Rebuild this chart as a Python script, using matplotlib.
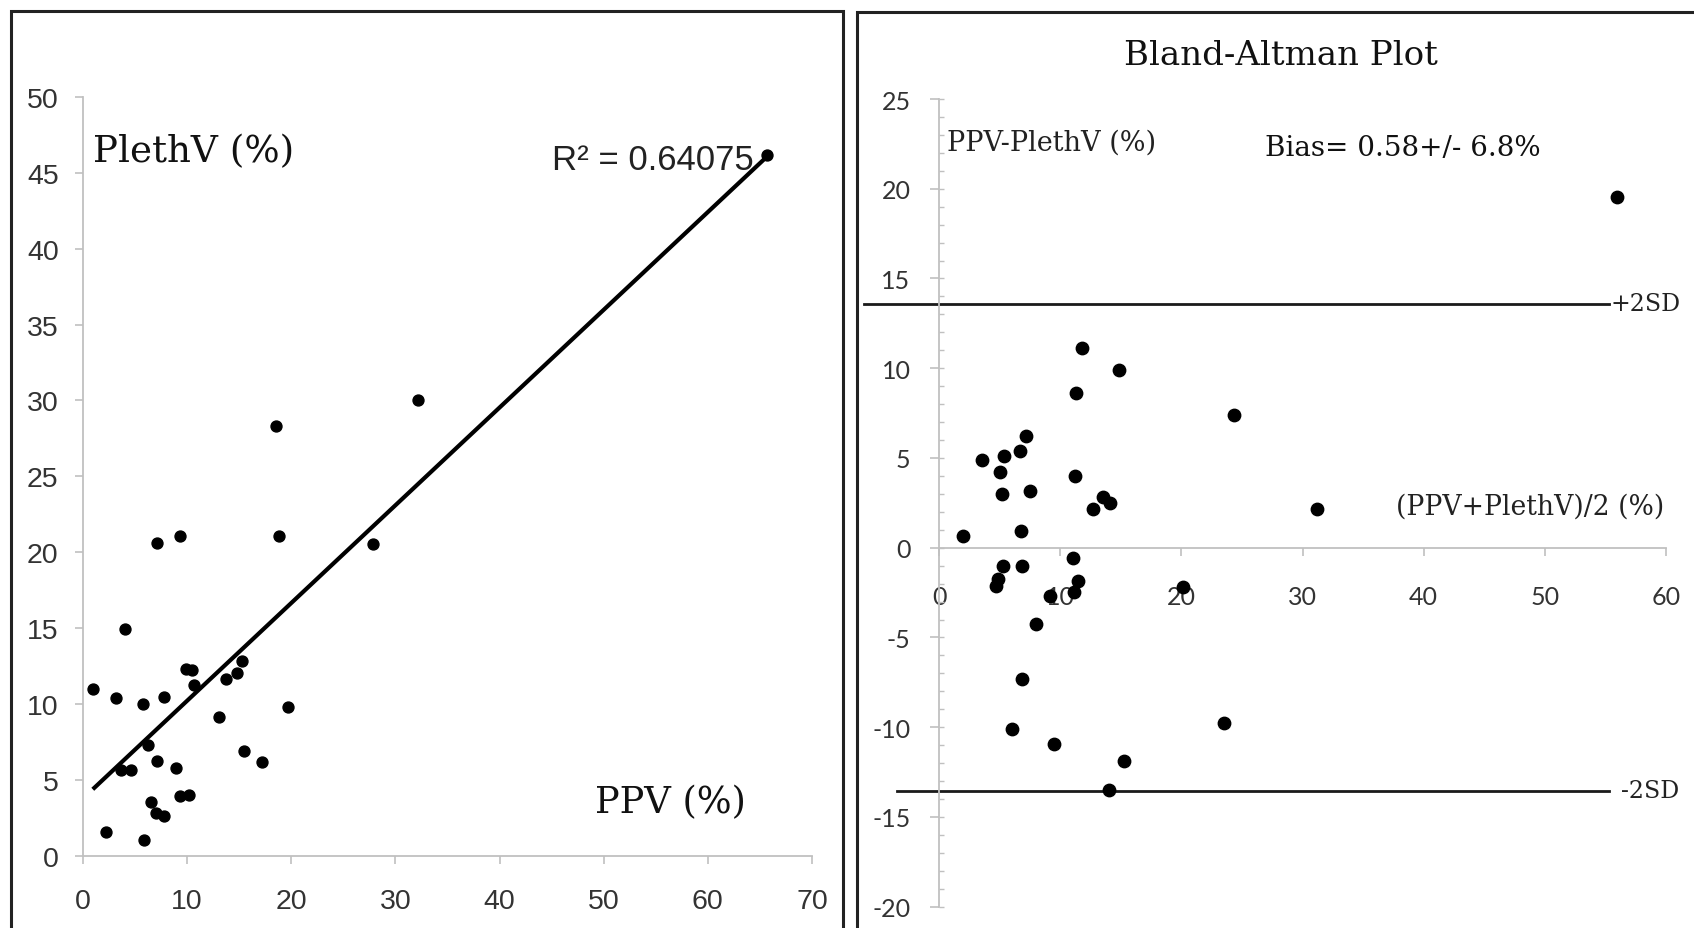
import numpy as np
import matplotlib
matplotlib.use("Agg")
import matplotlib.pyplot as plt
from matplotlib.ticker import MultipleLocator
from matplotlib.patches import Rectangle

plt.rcParams["axes.unicode_minus"] = False

# ---------------- data ----------------
ppv = [0.94, 2.19, 3.13, 4.01, 3.65, 4.59, 5.78, 5.89, 6.25, 6.57, 7.14, 7.14,
       7.03, 7.76, 7.76, 8.96, 9.28, 9.28, 10.21, 9.85, 10.42, 10.68, 13.03,
       13.70, 14.75, 15.27, 15.48, 17.20, 18.55, 18.86, 19.70, 27.88, 32.15, 65.66]
plethv = [10.96, 1.57, 10.41, 14.92, 5.68, 5.68, 10.02, 1.02, 7.32, 3.56, 20.63, 6.23,
          2.82, 2.62, 10.45, 5.79, 21.06, 3.92, 3.99, 12.33, 12.25, 11.28, 9.12,
          11.67, 12.06, 12.80, 6.93, 6.15, 28.31, 21.10, 9.79, 20.56, 30.03, 46.20]

ba_mean = [1.99, 3.57, 5.07, 5.38, 5.20, 5.29, 4.85, 4.72, 6.66, 7.19, 6.79, 6.88,
           7.50, 8.03, 6.88, 6.04, 9.17, 9.53, 11.12, 11.47, 11.03, 11.20, 11.34,
           11.82, 12.75, 13.50, 14.12, 14.87, 14.03, 15.26, 20.11, 23.56, 24.35,
           31.23, 55.93]
ba_diff = [0.64, 4.87, 4.24, 5.13, 2.97, -1.04, -1.74, -2.14, 5.38, 6.24, 0.91, -1.04,
           3.16, -4.25, -7.33, -10.08, -2.69, -10.94, -2.46, -1.86, -0.58, 3.98, 8.61,
           11.10, 2.14, 2.80, 2.50, 9.91, -13.52, -11.86, -2.20, -9.75, 7.39,
           2.17, 19.54]
upper_sd = 13.6
lower_sd = -13.55
r2_label = "R\u00b2 = 0.64075"
bias_label = "Bias= 0.58+/- 6.8%"

left_xticks = [0, 10, 20, 30, 40, 50, 60, 70]
left_yticks = [0, 5, 10, 15, 20, 25, 30, 35, 40, 45, 50]
right_xticks = [0, 10, 20, 30, 40, 50, 60]
right_yticks = [-20, -15, -10, -5, 0, 5, 10, 15, 20, 25]

# ---------------- figure ----------------
W, H = 1694, 929
fig = plt.figure(figsize=(W / 100, H / 100), dpi=100)
fig.patch.set_facecolor("white")

def fx(px):
    return px / W

def fy(py):
    return 1 - py / H

# panel borders
fig.patches.append(Rectangle((fx(11), fy(960)), fx(843) - fx(11), fy(12) - fy(960),
                             transform=fig.transFigure, fill=False, lw=2.2,
                             edgecolor="#222222", clip_on=False))
fig.patches.append(Rectangle((fx(857), fy(960)), fx(1720) - fx(857), fy(13) - fy(960),
                             transform=fig.transFigure, fill=False, lw=2.2,
                             edgecolor="#222222", clip_on=False))

spine_col = "#c0c0c0"
tick_lab_col = "#333333"
serif = "DejaVu Serif"

# ---------------- left: scatter ----------------
axL = fig.add_axes([fx(83), fy(856.7), fx(812) - fx(83), fy(98) - fy(856.7)])
axL.set_facecolor("none")
axL.set_xlim(0, 70)
axL.set_ylim(0, 50)
axL.set_xticks(left_xticks)
axL.set_yticks(left_yticks)
for s in ["top", "right"]:
    axL.spines[s].set_visible(False)
for s in ["left", "bottom"]:
    axL.spines[s].set_color(spine_col)
    axL.spines[s].set_linewidth(1.3)
axL.tick_params(axis="x", direction="out", length=5.5, width=1.2, color=spine_col,
                labelsize=20.5, labelcolor=tick_lab_col, pad=17.5)
axL.tick_params(axis="y", direction="out", length=5.5, width=1.2, color=spine_col,
                labelsize=20.5, labelcolor=tick_lab_col, pad=12)
for lab in axL.get_xticklabels() + axL.get_yticklabels():
    lab.set_fontfamily("Liberation Sans")

axL.scatter(ppv, plethv, s=62, color="black", zorder=3, clip_on=False)
coef = np.polyfit(ppv, plethv, 1)
xl = np.array([min(ppv), max(ppv)])
axL.plot(xl, np.polyval(coef, xl), color="black", lw=3.0, zorder=2,
         solid_capstyle="butt")

axL.text(1.0, 46.4, "PlethV (%)", fontsize=26.8, family=serif, va="center", ha="left",
         color="#111111")
axL.text(64.4, 45.9, r2_label, fontsize=25, family="Liberation Sans", va="center",
         ha="right", color="#222222")
axL.text(49.2, 3.5, "PPV (%)", fontsize=26.5, family=serif, va="center", ha="left",
         color="#111111")

# ---------------- right: Bland-Altman ----------------
axR = fig.add_axes([fx(939), fy(907.7), fx(1666) - fx(939), fy(100) - fy(907.7)])
axR.set_facecolor("none")
axR.set_xlim(0, 60)
axR.set_ylim(-20, 25)
axR.set_xticks(right_xticks)
axR.set_yticks(right_yticks)
axR.yaxis.set_minor_locator(MultipleLocator(1))
axR.yaxis.remove_overlapping_locs = False
for s in ["top", "right"]:
    axR.spines[s].set_visible(False)
axR.spines["bottom"].set_position(("data", 0))
for s in ["left", "bottom"]:
    axR.spines[s].set_color(spine_col)
    axR.spines[s].set_linewidth(1.3)
axR.tick_params(axis="x", direction="out", length=5.5, width=1.2, color=spine_col,
                labelsize=18, labelcolor=tick_lab_col, pad=21)
axR.tick_params(axis="y", which="major", direction="out", length=6.5, width=1.2,
                color=spine_col, labelsize=18, labelcolor=tick_lab_col, pad=14)
axR.tick_params(axis="y", which="minor", direction="in", length=3.8, width=1.0,
                color=spine_col)
for lab in axR.get_xticklabels() + axR.get_yticklabels():
    lab.set_fontfamily("Lato")

axR.scatter(ba_mean, ba_diff, s=80, color="black", zorder=3, clip_on=False)

upper_x = [-6.2, 55.3]
lower_x = [-3.5, 55.3]
axR.plot(upper_x, [upper_sd, upper_sd], color="#1a1a1a", lw=2.0, clip_on=False, zorder=2)
axR.plot(lower_x, [lower_sd, lower_sd], color="#1a1a1a", lw=2.0, clip_on=False, zorder=2)
axR.text(55.45, upper_sd, "+2SD", fontsize=17, family=serif, va="center", ha="left",
         color="#222222", clip_on=False)
axR.text(56.3, lower_sd, "-2SD", fontsize=17, family=serif, va="center", ha="left",
         color="#222222", clip_on=False)

axR.text(28.2, 27.45, "Bland-Altman Plot", fontsize=24.5, family=serif, va="center",
         ha="center", color="#111111", clip_on=False)
axR.text(0.66, 22.6, "PPV-PlethV (%)", fontsize=19.5, family=serif, va="center",
         ha="left", color="#222222")
axR.text(26.9, 22.3, bias_label, fontsize=20, family=serif, va="center", ha="left",
         color="#111111")
axR.text(37.7, 2.32, "(PPV+PlethV)/2 (%)", fontsize=19.2, family=serif, va="center",
         ha="left", color="#222222")

fig.savefig("out.png", dpi=100, facecolor="white")
